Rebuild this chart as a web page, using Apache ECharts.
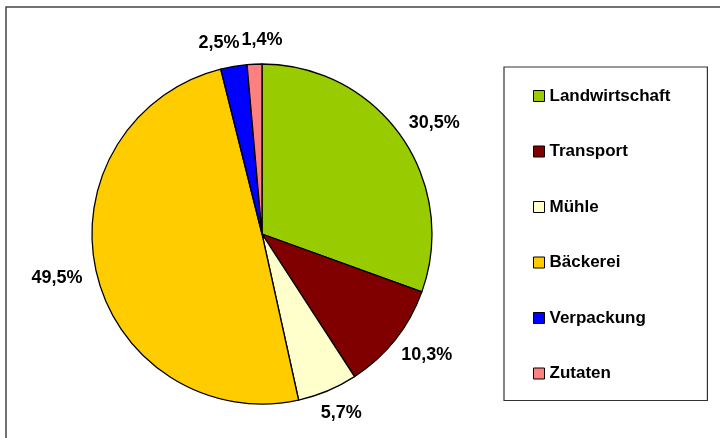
<!DOCTYPE html>
<html>
<head>
<meta charset="utf-8">
<script src="https://cdn.jsdelivr.net/npm/echarts@6/dist/echarts.min.js"></script>
<style>
  html, body { margin: 0; padding: 0; background: #fff; }
  #chart { width: 720px; height: 438px; }
</style>
</head>
<body>
<div id="chart"></div>
<script>
// Anteile am Gesamtergebnis (in %)
const categories = ['Landwirtschaft', 'Transport', 'Mühle', 'Bäckerei', 'Verpackung', 'Zutaten'];
const shares = [30.5, 10.3, 5.7, 49.5, 2.5, 1.4];
const colors = ['#99CC00', '#800000', '#FFFFCC', '#FFCC00', '#0000FF', '#FF8080'];

const CX = 262, CY = 234, R = 170, LABEL_GAP = 15;
const LABEL_FONT = 'bold 18px "Liberation Sans", Arial, sans-serif';
const LABEL_H = 18;
const total = shares.reduce((a, b) => a + b, 0);

const fmt = v => v.toFixed(1).replace('.', ',') + '%';

// Place each value label just outside the rim, pushed outward along the
// slice bisector; then spread labels apart horizontally where they collide.
function computeLabelPositions() {
  const ctx = document.createElement('canvas').getContext('2d');
  ctx.font = LABEL_FONT;
  const pos = [];
  let acc = 0;
  shares.forEach(v => {
    const a = ((acc + v / 2) / total) * Math.PI * 2;
    acc += v;
    const ux = Math.sin(a), uy = -Math.cos(a);
    const w = ctx.measureText(fmt(v)).width, h = LABEL_H;
    pos.push({
      x: CX + ux * (R + LABEL_GAP) + ux * w / 2,
      y: CY + uy * (R + LABEL_GAP) + uy * h / 2,
      w, h
    });
  });
  for (let i = 0; i < pos.length; i++) {
    for (let j = i + 1; j < pos.length; j++) {
      const p = pos[i], q = pos[j];
      if (Math.abs(p.y - q.y) >= (p.h + q.h) / 2) continue;
      const need = (p.w + q.w) / 2 + 2 - Math.abs(p.x - q.x);
      if (need <= 0) continue;
      const s = p.x <= q.x ? -1 : 1;
      p.x += s * need / 2;
      q.x -= s * need / 2;
    }
  }
  return pos;
}
const labelPos = computeLabelPositions();

const chart = echarts.init(document.getElementById('chart'), null, { renderer: 'canvas' });

chart.setOption({
  animation: false,
  backgroundColor: '#fff',
  color: colors,
  graphic: [{
    type: 'rect',
    shape: { x: 6, y: 7, width: 740, height: 460 },
    style: { fill: 'none', stroke: '#444', lineWidth: 1.5 },
    silent: true
  }],
  legend: {
    orient: 'vertical',
    left: 504,
    top: 67,
    padding: [19, 37, 17, 29],
    itemGap: 35.5,
    itemWidth: 11,
    itemHeight: 11,
    icon: 'rect',
    borderColor: '#333',
    borderWidth: 1.2,
    itemStyle: { borderColor: '#000', borderWidth: 1 },
    textStyle: {
      fontFamily: 'Liberation Sans, Arial, sans-serif',
      fontWeight: 'bold',
      fontSize: 17,
      lineHeight: 20,
      color: '#000'
    },
    data: categories
  },
  series: [{
    type: 'pie',
    center: [CX, CY],
    radius: R,
    startAngle: 90,
    clockwise: true,
    avoidLabelOverlap: false,
    silent: true,
    itemStyle: { borderColor: '#000', borderWidth: 1.3 },
    label: {
      show: true,
      position: 'outside',
      formatter: p => fmt(p.value),
      fontFamily: 'Liberation Sans, Arial, sans-serif',
      fontWeight: 'bold',
      fontSize: 18,
      color: '#000'
    },
    labelLine: { show: false },
    labelLayout: function (params) {
      const p = labelPos[params.dataIndex];
      return { x: p.x, y: p.y, align: 'center', verticalAlign: 'middle' };
    },
    data: categories.map((name, i) => ({ name, value: shares[i] }))
  }]
});
</script>
</body>
</html>
